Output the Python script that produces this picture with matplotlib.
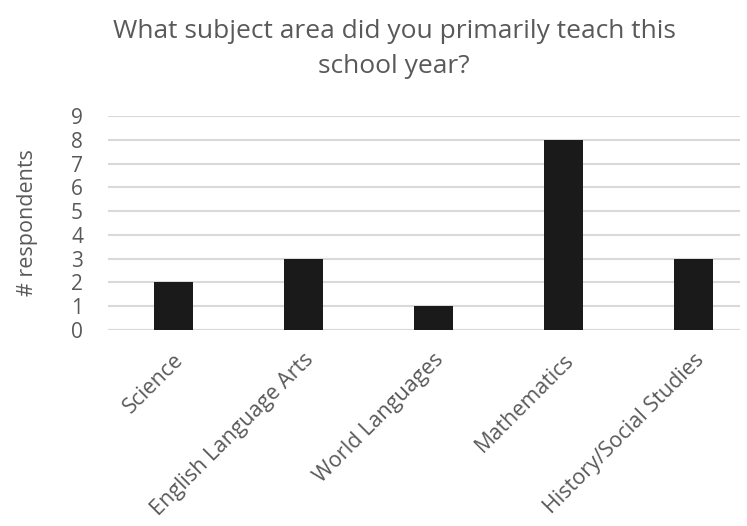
import matplotlib.pyplot as plt

categories = ["Science", "English Language Arts", "World Languages",
              "Mathematics", "History/Social Studies"]
respondents = [2, 3, 1, 8, 3]

plt.rcParams['font.family'] = ['Open Sans', 'DejaVu Sans']

fig = plt.figure(figsize=(7.47, 5.26), dpi=100)
W, H = 747, 526
ax = fig.add_axes([108 / W, 1 - 330 / H, 632 / W, 214 / H])

x = range(len(categories))
ax.bar(x, respondents, width=0.3, color='#1a1a1a', zorder=3)

ax.set_ylim(0, 9)
ax.set_xlim(-0.5, 4.36)
ax.set_yticks(range(10))
ax.yaxis.grid(True, color='#d9d9d9', linewidth=1.5, zorder=0)
for s in ax.spines.values():
    s.set_visible(False)
ax.axhline(0, color='#d9d9d9', linewidth=1.5, zorder=2)
ax.tick_params(axis='both', length=0, colors='#595959', labelsize=15)
ax.tick_params(axis='y', pad=18)
ax.set_xticks(list(x))
ax.set_xticklabels(categories, rotation=45, ha='right', rotation_mode='anchor',
                   fontsize=15.5)
ax.tick_params(axis='x', pad=14)
ax.set_ylabel('# respondents', fontsize=15.5, color='#595959', labelpad=24)

fig.text(394 / W, 1 - 49 / H, 'What subject area did you primarily teach this\nschool year?',
         ha='center', va='center', fontsize=19, color='#595959', linespacing=1.5)

fig.savefig('out.png', dpi=100)
